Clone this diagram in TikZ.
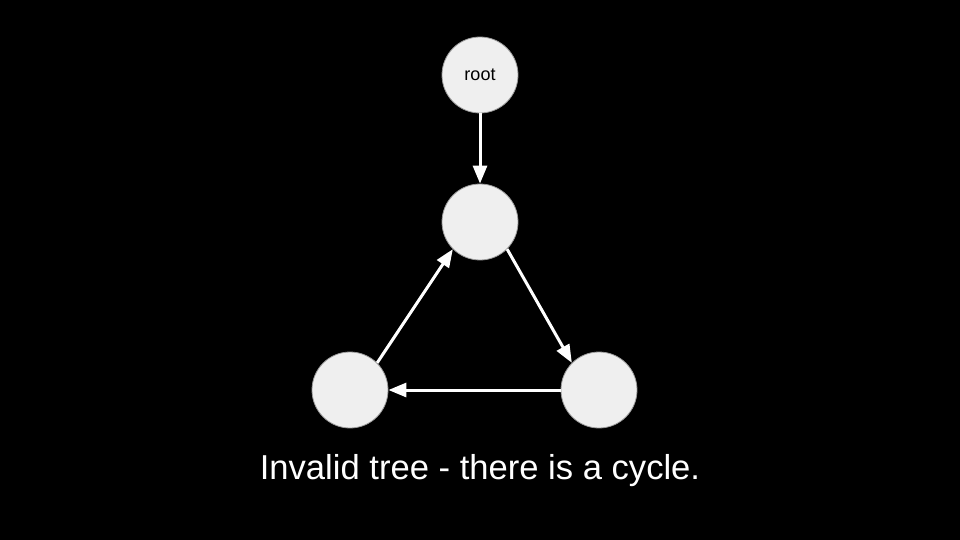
\documentclass[tikz,border=0pt]{standalone}
\usepackage{fontspec}
\setmainfont{Liberation Sans}
\usetikzlibrary{arrows.meta}
\definecolor{nodefill}{HTML}{EFEFEF}
\definecolor{nodeborder}{HTML}{9A9A9A}
\begin{document}
\begin{tikzpicture}[x=1pt,y=-1pt,
  vert/.style={circle,fill=nodefill,draw=nodeborder,line width=0.8pt,minimum size=76pt,inner sep=0pt,font=\fontsize{18}{20}\selectfont},
  edge/.style={draw=white,line width=3pt,-{Triangle[length=18pt,width=14pt]}}]
\fill[black] (0,0) rectangle (960,540);
\useasboundingbox (0,0) rectangle (960,540);
\node[vert] (root) at (480,75) {root};
\node[vert] (mid) at (480,222) {};
\node[vert] (left) at (350,390) {};
\node[vert] (right) at (599,390) {};
\draw[edge] (root) -- (mid);
\draw[edge] (mid.south east) -- (right.north west);
\draw[edge] (right) -- (left);
\draw[edge] (left.north east) -- (mid.south west);
\node[text=white,font=\fontsize{34.6}{38}\selectfont] (cap) at (480,471) {Invalid tree - there is a cycle.};
\end{tikzpicture}
\end{document}
